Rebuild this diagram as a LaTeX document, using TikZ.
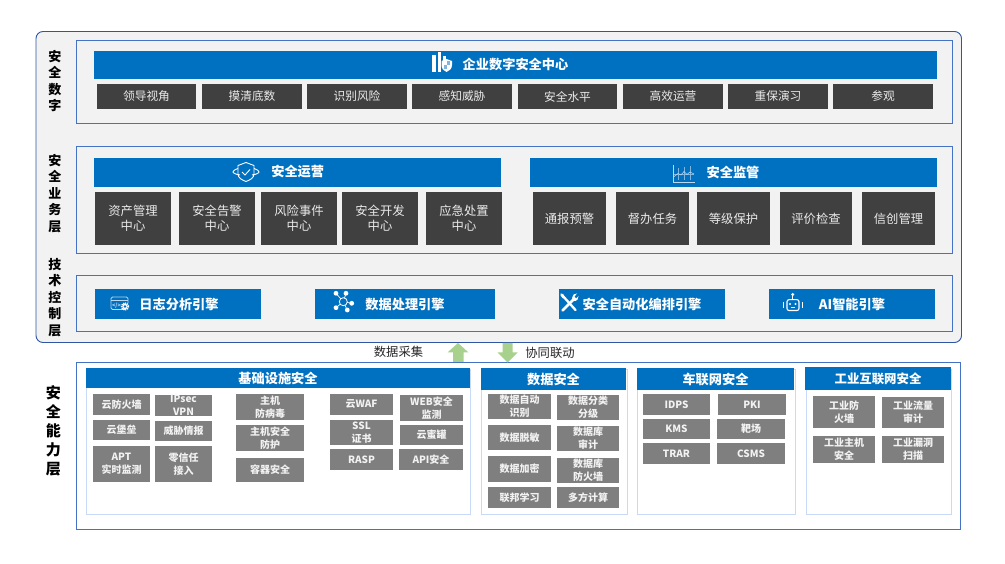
\documentclass[tikz,border=0pt]{standalone}
\usepackage{fontspec}
\setmainfont{Noto Sans CJK SC}
\definecolor{outerline}{HTML}{2F55A5}
\definecolor{panelline}{HTML}{4472C4}
\definecolor{outerfill}{HTML}{F2F2F2}
\definecolor{hdr}{HTML}{0070C0}
\definecolor{darkbox}{HTML}{404040}
\definecolor{greybox}{HTML}{7F7F7F}
\definecolor{frameline}{HTML}{C9DAF8}
\definecolor{greenarrow}{HTML}{A9D18E}
\definecolor{iconline}{HTML}{BDD7EE}
\definecolor{chartline}{HTML}{7FB5DF}
\tikzset{
  basebox/.style={inner sep=0pt,outer sep=0pt,align=center,anchor=north west},
  panelbox/.style={basebox,draw=panelline,line width=0.9pt},
  framebox/.style={basebox,draw=frameline,line width=1pt,fill=white},
  hdrbox/.style={basebox,fill=hdr,text=white,font=\fontsize{13.2}{16}\selectfont\bfseries},
  darkb/.style={basebox,fill=darkbox,text=white!92!black,font=\fontsize{12.3}{15}\selectfont},
  darkr/.style={basebox,fill=darkbox,text=white!92!black,font=\fontsize{11.7}{15}\selectfont},
  greyb/.style={basebox,fill=greybox,text=white!95!black,font=\fontsize{10}{13.3}\selectfont\bfseries},
  sidelab/.style={inner sep=0pt,align=center,font=\fontsize{13}{16.5}\selectfont\bfseries,text=black},
  sidebig/.style={inner sep=0pt,align=center,font=\fontsize{15}{19}\selectfont\bfseries,text=black},
  hlabel/.style={inner sep=0pt,text=white,font=\fontsize{13.2}{16}\selectfont\bfseries},
  captext/.style={inner sep=0pt,text=black!85,font=\fontsize{12.3}{15}\selectfont},
  icn/.style={draw=white,line width=0.9pt,fill=none}
}
\newcommand{\bx}[7]{%
  \pgfmathsetmacro{\bw}{#5-#3}\pgfmathsetmacro{\bh}{#6-#4}%
  \node[#2,minimum width=\bw pt,minimum height=\bh pt] (#1) at (#3,#4) {#7};}
\begin{document}
\begin{tikzpicture}[x=1pt,y=-1pt]
\useasboundingbox (0,0) rectangle (1005,564);
\fill[white] (0,0) rectangle (1005,564);
% outer
\bx{outer}{basebox,draw=outerline,line width=0.9pt,fill=outerfill,rounded corners=7pt}{36}{31.5}{961.5}{342.5}{}
\bx{p1}{panelbox}{76.3}{40.3}{952.7}{123.3}{}
\bx{p2}{panelbox}{76.3}{146.3}{952.7}{253.3}{}
\bx{p3}{panelbox}{76.3}{275.3}{952.7}{331.3}{}
\bx{p4}{panelbox,fill=white}{76.3}{362.7}{960.3}{529.3}{}
% side labels
\node[sidelab] (s1) at (55,81) {安\\全\\数\\字};
\node[sidelab] (s2) at (55,193.5) {安\\全\\业\\务\\层};
\node[sidelab] (s3) at (55,297.5) {技\\术\\控\\制\\层};
\node[sidebig] (s4) at (53.3,430.5) {安\\全\\能\\力\\层};
% row 1
\bx{h1}{hdrbox}{94}{51}{937}{79}{}
\node[hlabel] (h1t) at (515.5,64.5) {企业数字安全中心};
\bx{a1}{darkr}{97}{84}{196}{109}{领导视角}
\bx{a2}{darkr}{202}{84}{302}{109}{摸清底数}
\bx{a3}{darkr}{307}{84}{407}{109}{识别风险}
\bx{a4}{darkr}{412}{84}{512}{109}{感知威胁}
\bx{a5}{darkr}{518}{84}{617}{109}{安全水平}
\bx{a6}{darkr}{623}{84}{723}{109}{高效运营}
\bx{a7}{darkr}{728}{84}{828}{109}{重保演习}
\bx{a8}{darkr}{833}{84}{933}{109}{参观}
% row 2
\bx{h2}{hdrbox}{94}{158}{501}{187}{}
\node[hlabel] (h2t) at (297.7,172) {安全运营};
\bx{h3}{hdrbox}{530}{158}{937}{187}{}
\node[hlabel] (h3t) at (733,172) {安全监管};
\bx{b1}{darkb}{95}{192}{171}{245}{资产管理\\中心}
\bx{b2}{darkb}{179}{192}{255}{245}{安全告警\\中心}
\bx{b3}{darkb}{261}{192}{337}{245}{风险事件\\中心}
\bx{b4}{darkb}{342}{192}{418}{245}{安全开发\\中心}
\bx{b5}{darkb}{426}{192}{502}{245}{应急处置\\中心}
\bx{c1}{darkb}{533}{192}{606}{245}{通报预警}
\bx{c2}{darkb}{616}{192}{689}{245}{督办任务}
\bx{c3}{darkb}{697}{192}{770}{245}{等级保护}
\bx{c4}{darkb}{780}{192}{852}{245}{评价检查}
\bx{c5}{darkb}{862}{192}{935}{245}{信创管理}
% engines
\bx{e1}{hdrbox}{95}{289}{261}{319}{}
\node[hlabel] (e1t) at (179,304) {日志分析引擎};
\bx{e2}{hdrbox}{315}{289}{495}{319}{}
\node[hlabel] (e2t) at (405,304.5) {数据处理引擎};
\bx{e3}{hdrbox}{559}{289}{725}{319}{}
\node[hlabel] (e3t) at (642,304) {安全自动化编排引擎};
\bx{e4}{hdrbox}{769}{289}{935}{319}{}
\node[hlabel] (e4t) at (852,304) {AI智能引擎};
% arrows
\fill[greenarrow] (458,343) -- (468.5,352.5) -- (463.5,352.5) -- (463.5,362) -- (453,362) -- (453,352.5) -- (447.5,352.5) -- cycle;
\fill[greenarrow] (507.5,362.5) -- (497.5,352.5) -- (502.5,352.5) -- (502.5,343) -- (512.5,343) -- (512.5,352.5) -- (517.5,352.5) -- cycle;
\node[captext] (t1) at (398.5,351.7) {数据采集};
\node[captext] (t2) at (550,352.5) {协同联动};
% groups
\bx{g1}{framebox}{86.5}{369}{470.5}{514.3}{}
\bx{g2}{framebox}{481.5}{369}{627.7}{514.3}{}
\bx{g3}{framebox}{637.5}{369}{795}{514.3}{}
\bx{g4}{framebox}{806.5}{369}{951.5}{514.3}{}
\bx{gh1}{hdrbox}{86}{368}{470}{388}{基础设施安全}
\bx{gh2}{hdrbox}{481}{368}{626}{390}{数据安全}
\bx{gh3}{hdrbox}{637}{368}{794}{390}{车联网安全}
\bx{gh4}{hdrbox,font=\fontsize{12.4}{16}\selectfont\bfseries}{805}{367}{951}{390}{工业互联网安全}
% group 1
\bx{k1}{greyb}{93}{394}{150}{415}{云防火墙}
\bx{k2}{greyb}{155}{395}{212}{416}{IPsec\\VPN}
\bx{k3}{greyb}{93}{420}{150}{440}{云堡垒}
\bx{k4}{greyb}{155}{421}{212}{441}{威胁情报}
\bx{k5}{greyb}{93}{446}{150}{482}{APT\\实时监测}
\bx{k6}{greyb}{155}{446}{212}{482}{零信任\\接入}
\bx{k7}{greyb}{236}{394}{304}{420}{主机\\防病毒}
\bx{k8}{greyb}{236}{425}{304}{451}{主机安全\\防护}
\bx{k9}{greyb}{236}{458}{304}{482}{容器安全}
\bx{k10}{greyb}{330}{394}{393}{415}{云WAF}
\bx{k11}{greyb}{400}{395}{463}{421}{WEB安全\\监测}
\bx{k12}{greyb}{330}{420}{393}{445}{SSL\\证书}
\bx{k13}{greyb}{400}{425}{463}{445}{云蜜罐}
\bx{k14}{greyb}{330}{449}{393}{470}{RASP}
\bx{k15}{greyb}{399}{449}{463}{470}{API安全}
% group 2
\bx{d1}{greyb}{488}{394}{551}{419}{数据自动\\识别}
\bx{d2}{greyb}{557}{395}{619}{420}{数据分类\\分级}
\bx{d3}{greyb}{488}{425}{551}{450}{数据脱敏}
\bx{d4}{greyb}{557}{426}{619}{451}{数据库\\审计}
\bx{d5}{greyb}{488}{456}{551}{482}{数据加密}
\bx{d6}{greyb}{557}{458}{619}{483}{数据库\\防火墙}
\bx{d7}{greyb}{488}{487}{551}{508}{联邦学习}
\bx{d8}{greyb}{557}{487}{619}{508}{多方计算}
% group 3
\bx{v1}{greyb}{643}{394}{710}{415}{IDPS}
\bx{v2}{greyb}{718}{394}{786}{415}{PKI}
\bx{v3}{greyb}{643}{419}{710}{439}{KMS}
\bx{v4}{greyb}{717}{419}{785}{439}{靶场}
\bx{v5}{greyb}{643}{443}{710}{464}{TRAR}
\bx{v6}{greyb}{717}{443}{785}{464}{CSMS}
% group 4
\bx{w1}{greyb}{813}{396}{875}{428}{工业防\\火墙}
\bx{w2}{greyb}{882}{397}{944}{428}{工业流量\\审计}
\bx{w3}{greyb}{813}{436}{875}{463}{工业主机\\安全}
\bx{w4}{greyb}{882}{436}{944}{463}{工业漏洞\\扫描}
% --- icons ---
% bars + shield
\fill[white] (432.3,55.5) rectangle (436.3,72);
\fill[white] (437.5,52.5) rectangle (441,72);
\fill[white] (442.5,56) rectangle (446,61);
\fill[white] (441.5,61) -- (446.5,59) -- (452,61) -- (452,65) .. controls (452,69) and (449,71) .. (446.5,72) .. controls (444,71) and (441.5,69) .. (441.5,65) -- cycle;
\fill[chartline] (446.5,61) rectangle (450,65);
\fill[chartline] (443.5,65) rectangle (446.5,69);
% shield with ring
\draw[icn] (246,162.5) -- (254,165.5) -- (254,174) .. controls (254,178) and (250,180) .. (246,181.5) .. controls (242,180) and (238,178) .. (238,174) -- (238,165.5) -- cycle;
\draw[icn] (238,168.5) .. controls (234,170) and (233,171) .. (233,172) .. controls (233,173) and (236,174.5) .. (240,175);
\draw[icn] (254,168.5) .. controls (258,170) and (259,171) .. (259,172) .. controls (259,173) and (256,174.5) .. (252,175);
\draw[icn] (242,172) -- (245,175) -- (250,169.5);
% chart
\draw[iconline,line width=0.6pt] (673.5,165) -- (673.5,182.5) -- (695,182.5);
\draw[chartline,line width=0.5pt] (678,168) -- (678,180) (684,167) -- (684,180) (690,166) -- (690,180) (673.5,174) -- (694,174);
\draw[iconline,line width=0.6pt] (673.5,177) -- (678,173.5) -- (681,175) -- (684,171.5) -- (687,174.5) -- (690,172) -- (694,174);
% log window
\draw[iconline,line width=0.9pt,rounded corners=1.5pt] (125,309.5) -- (111,309.5) -- (111,297) -- (128,297) -- (128,303);
\draw[iconline,line width=0.8pt] (111,300.5) -- (128,300.5);
\node[inner sep=0pt,text=iconline,font=\fontsize{5.5}{6}\selectfont\bfseries] (logc) at (116.5,305.5) {</>};
\draw[white,line width=1.2pt,dash pattern=on 1.2pt off 0.9pt] (125,306.5) circle (3.6pt);
\fill[white] (125,306.5) circle (2.8pt);
\fill[hdr] (125,306.5) circle (1.3pt);
% network
\draw[white,line width=0.7pt] (343.3,301.7) -- (336,293.3) (343.3,301.7) -- (346,293.3) (343.3,301.7) -- (351.7,303.3) (343.3,301.7) -- (347.3,310) (343.3,301.7) -- (336,307.7);
\fill[hdr] (343.3,301.7) circle (4pt);
\draw[white,line width=0.8pt] (343.3,301.7) circle (4pt);
\fill[white] (336,293.3) circle (2.4pt) (346,293.3) circle (2.4pt) (351.7,303.3) circle (2.4pt) (347.3,310) circle (2.4pt) (336,307.7) circle (2.4pt);
% tools
\draw[white,line width=2.3pt,line cap=round] (562,295) -- (575.5,310);
\draw[white,line width=2.6pt,line cap=round] (574,299) -- (562.5,310.5);
\fill[white] (572,298) .. controls (572,295) and (575,293) .. (577,293.5) -- (574.5,296.5) -- (576,298.5) -- (578.5,296) .. controls (579,298.5) and (577,301.5) .. (573.5,301) -- cycle;
\fill[white] (560.5,293.5) -- (563,294) -- (565,297.5) -- (563,298.5) -- (560.5,295.5) -- cycle;
% robot
\draw[white,line width=1.1pt,rounded corners=2pt] (787,299.7) rectangle (799,310.5);
\fill[white] (792.7,294.5) circle (1.7pt);
\draw[white,line width=0.9pt] (792.7,294.5) -- (792.7,299.7);
\fill[white] (790,304) circle (1.1pt) (795.5,304) circle (1.1pt);
\draw[white,line width=0.9pt] (790.5,307.5) -- (795,307.5);
\draw[white,line width=1pt] (783.5,302) -- (783.5,308) (802.2,302) -- (802.2,308);
\end{tikzpicture}
\end{document}
